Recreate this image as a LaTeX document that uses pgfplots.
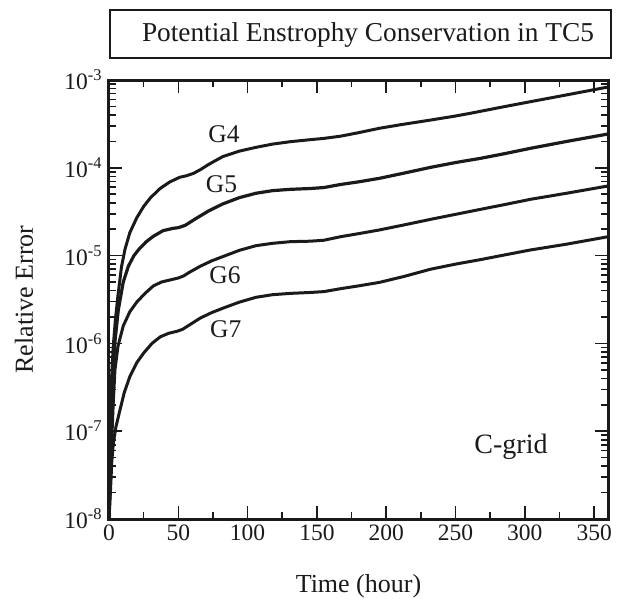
\documentclass[border=0pt]{standalone}
\usepackage{pgfplots}
\pgfplotsset{compat=1.18}
\usepackage{fontspec}
\setmainfont{Liberation Serif}
\definecolor{ink}{HTML}{1A1A1A}
\begin{document}
\begin{tikzpicture}
\begin{axis}[
  scale only axis, width=499pt, height=439pt,
  line width=3pt, draw=ink,
  xmin=0, xmax=360, ymin=1e-8, ymax=1e-3, ymode=log,
  xtick={0,50,100,150,200,250,300,350},
  xticklabels={0,50,100,150,200,250,300,350},
  minor x tick num=1,
  ytick={1e-8,1e-7,1e-6,1e-5,1e-4,1e-3},
  yticklabels={10\textsuperscript{-8},10\textsuperscript{-7},10\textsuperscript{-6},10\textsuperscript{-5},10\textsuperscript{-4},10\textsuperscript{-3}},
  axis line style={line width=3pt, draw=ink},
  every tick/.style={line width=1.6pt, draw=ink},
  major tick length=13pt, minor tick length=7pt,
  tick label style={font=\fontsize{23.5}{26}\selectfont, text=ink},
  xticklabel style={yshift=-1pt},
  yticklabel style={xshift=-2pt},
  xlabel={Time (hour)}, ylabel={Relative Error},
  label style={font=\fontsize{26}{30}\selectfont, text=ink},
  xlabel style={at={(axis description cs:0.5,-0.1663)}, anchor=base},
  ylabel style={at={(axis description cs:-0.1703,0.5)}, anchor=center},
  cycle list={{draw=ink, line width=3.2pt, line join=round, mark=none, smooth, tension=0.35}},
]
% G4
\addplot coordinates {(0,1e-8)(0.5,6.31e-8)(1,1.585e-7)(2,4.467e-7)(3,8.913e-7)(4.5,1.778e-6)(6.5,3.548e-6)(9,7.41e-6)(11.5,1.175e-5)(15,1.82e-5)(20,2.692e-5)(25,3.631e-5)(30,4.571e-5)(37,5.834e-5)(44,6.918e-5)(51,7.80e-5)(56,8.128e-5)(61,8.65e-5)(66,9.55e-5)(72,1.096e-4)(82,1.34e-4)(94,1.549e-4)(106,1.71e-4)(118,1.862e-4)(131,1.986e-4)(145,2.089e-4)(155,2.163e-4)(167,2.291e-4)(180,2.512e-4)(195,2.818e-4)(210,3.09e-4)(232,3.499e-4)(250,3.89e-4)(263,4.246e-4)(283,4.898e-4)(304,5.662e-4)(330,6.761e-4)(360,8.318e-4)};
% G5
\addplot coordinates {(0,1e-8)(0.5,3.162e-8)(1,7.943e-8)(2,2.512e-7)(3,5.012e-7)(4.3,1.047e-6)(6.7,2.399e-6)(10.3,5.012e-6)(14,7.586e-6)(18,1e-5)(22,1.202e-5)(27,1.445e-5)(32,1.66e-5)(39,1.923e-5)(46,2.042e-5)(50,2.08e-5)(55,2.213e-5)(63,2.661e-5)(72,3.236e-5)(82,3.873e-5)(94,4.571e-5)(106,5.129e-5)(118,5.495e-5)(131,5.689e-5)(145,5.808e-5)(155,5.957e-5)(167,6.457e-5)(180,6.918e-5)(195,7.586e-5)(213,8.71e-5)(232,1.012e-4)(250,1.148e-4)(268,1.282e-4)(285,1.445e-4)(304,1.667e-4)(330,1.995e-4)(360,2.427e-4)};
% G6
\addplot coordinates {(0,1e-8)(1,2.512e-8)(2,7.943e-8)(3,1.995e-7)(4.3,5.012e-7)(6.5,9.333e-7)(10.3,1.585e-6)(15,2.291e-6)(20,2.951e-6)(26,3.715e-6)(32,4.519e-6)(38,5.012e-6)(46,5.37e-6)(50,5.559e-6)(54,5.888e-6)(58,6.457e-6)(66,7.586e-6)(74,8.71e-6)(82,9.727e-6)(94,1.148e-5)(106,1.297e-5)(118,1.38e-5)(131,1.442e-5)(145,1.459e-5)(155,1.496e-5)(167,1.641e-5)(180,1.778e-5)(195,1.959e-5)(213,2.239e-5)(232,2.588e-5)(250,2.951e-5)(268,3.365e-5)(285,3.802e-5)(304,4.375e-5)(330,5.129e-5)(360,6.209e-5)};
% G7
\addplot coordinates {(0,1e-8)(1,1.995e-8)(2,4.467e-8)(3.1,7.244e-8)(5,1.122e-7)(7.9,1.738e-7)(11,2.754e-7)(15,4.169e-7)(20,6.026e-7)(25,7.762e-7)(31,1e-6)(37,1.189e-6)(43,1.303e-6)(49,1.374e-6)(53,1.445e-6)(58,1.622e-6)(66,1.95e-6)(74,2.239e-6)(82,2.512e-6)(94,2.951e-6)(106,3.35e-6)(118,3.589e-6)(131,3.715e-6)(145,3.802e-6)(155,3.89e-6)(167,4.2e-6)(180,4.519e-6)(195,4.95e-6)(213,5.8e-6)(232,7.0e-6)(250,8.0e-6)(268,9.0e-6)(285,1.015e-5)(304,1.159e-5)(330,1.349e-5)(360,1.641e-5)};
\end{axis}
\draw[draw=ink, line width=2.4pt] (1pt,461pt) rectangle (502pt,509pt);
\node[anchor=base, text=ink, font=\fontsize{27.3}{32}\selectfont] at (259pt,477.5pt) {Potential Enstrophy Conservation in TC5};
\node[anchor=base, text=ink, font=\fontsize{25.5}{30}\selectfont] at (115pt,376pt) {G4};
\node[anchor=base, text=ink, font=\fontsize{25.5}{30}\selectfont] at (112.5pt,326pt) {G5};
\node[anchor=base, text=ink, font=\fontsize{25.5}{30}\selectfont] at (116pt,235pt) {G6};
\node[anchor=base, text=ink, font=\fontsize{25.5}{30}\selectfont] at (116.7pt,181pt) {G7};
\node[anchor=base, text=ink, font=\fontsize{28}{32}\selectfont] at (402pt,66pt) {C-grid};
\pgfresetboundingbox
\path[use as bounding box] (-109pt,-79pt) rectangle (513pt,519pt);
\end{tikzpicture}
\end{document}
